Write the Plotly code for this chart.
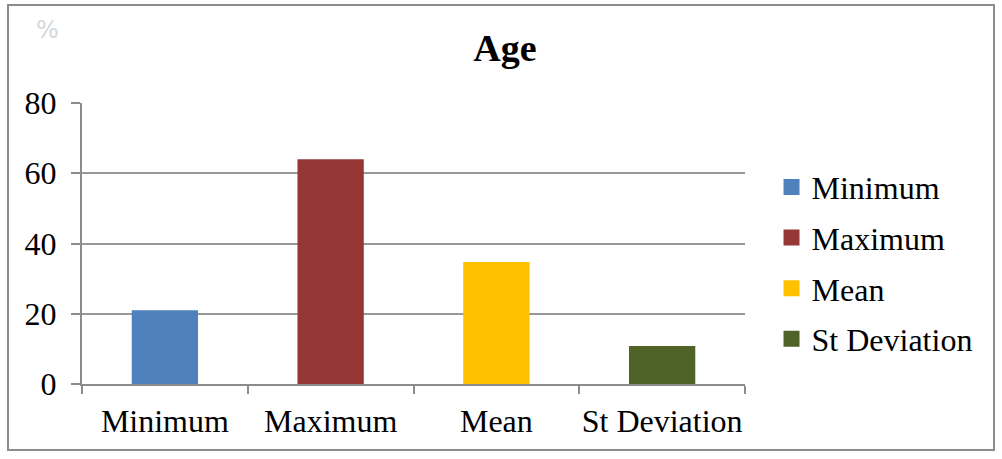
import plotly.graph_objects as go

# Age summary statistics
categories = ["Minimum", "Maximum", "Mean", "St Deviation"]
values = [21, 64, 34.7, 10.8]
colors = ["#4F81BD", "#953735", "#FFC000", "#4F6228"]
y_ticks = [0, 20, 40, 60, 80]

FONT = "Liberation Serif, Times New Roman, serif"

fig = go.Figure()
for i, (cat, val, col) in enumerate(zip(categories, values, colors)):
    fig.add_trace(go.Bar(
        x=[cat], y=[val], name=cat,
        marker=dict(color=col, line=dict(width=0)),
        legendgroup=f"g{i}", showlegend=False,
        hoverinfo="x+y",
    ))
    # legend entry with a larger square swatch
    fig.add_trace(go.Scatter(
        x=[None], y=[None], name=cat, mode="markers",
        marker=dict(symbol="square", size=16, color=col),
        legendgroup=f"g{i}", showlegend=True,
    ))

fig.update_layout(
    width=1002, height=459,
    margin=dict(l=82, r=257, t=103, b=75, autoexpand=False),
    paper_bgcolor="white", plot_bgcolor="white",
    barmode="overlay", bargap=0.6,
    font=dict(family=FONT, size=32, color="black"),
    title=dict(text="<b>Age</b>", x=(505) / 1002, xanchor="center",
               y=1 - 48 / 459, yanchor="middle",
               font=dict(family=FONT, size=38, color="black")),
    legend=dict(x=1.04, xanchor="left", y=0.43, yanchor="middle",
                font=dict(family=FONT, size=32), tracegroupgap=6,
                itemwidth=30,
                bgcolor="rgba(0,0,0,0)"),
    xaxis=dict(
        type="category", categoryorder="array", categoryarray=categories,
        showline=True, linecolor="#8c8c8c", linewidth=2,
        ticks="outside", tickson="boundaries", ticklen=8,
        tickcolor="#8c8c8c", tickwidth=2, ticklabelstandoff=8,
        tickangle=0, automargin=False,
        showgrid=False, tickfont=dict(size=32),
    ),
    yaxis=dict(
        range=[0, 80], tickvals=y_ticks,
        showline=True, linecolor="#8c8c8c", linewidth=2,
        ticks="outside", ticklen=9, tickcolor="#8c8c8c", tickwidth=2,
        ticklabelstandoff=8, automargin=False,
        showgrid=True, gridcolor="#989898", gridwidth=2,
        zeroline=False, tickfont=dict(size=32),
    ),
    shapes=[dict(type="rect", xref="paper", yref="paper",
                 x0=(8 - 82) / 663, x1=(994 - 82) / 663,
                 y0=(384 - 450) / 281, y1=(384 - 5) / 281,
                 line=dict(color="#8c8c8c", width=2), layer="below")],
    annotations=[dict(text="%", xref="paper", yref="paper",
                      x=(34 - 82) / 663, y=(384 - 14) / 281,
                      showarrow=False, font=dict(size=24, color="#d3d7de",
                                                 family="DejaVu Sans"))],
)

fig.write_html("out.html")
